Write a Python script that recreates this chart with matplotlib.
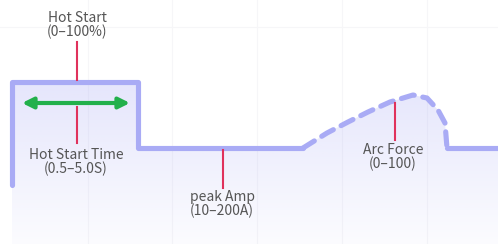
import numpy as np
from matplotlib import pyplot as plt
from matplotlib.patches import Polygon

plt.rcParams['font.family'] = ['Noto Sans CJK SC', 'DejaVu Sans']

### Profile of the welding current (pixel-like units, y grows downward)
solid_x = [12, 12, 138, 138, 303]
solid_y = [185, 82, 82, 148, 148]
arc_x = [303, 327, 348, 368, 390, 413, 427, 438, 445, 447]
arc_y = [148, 133, 122, 112, 102, 95, 98, 110, 123, 148]
tail_x = [447, 498]
tail_y = [148, 148]

### Callout labels and their red tick lines
labels = ['Hot Start\n(0–100%)', 'Hot Start Time\n(0.5–5.0S)', 'peak Amp\n(10–200A)', 'Arc Force\n(0–100)']
label_x = [77, 76, 222, 393]
label_y = [25, 162, 204, 157]
tick_x = [77, 77, 223, 395]
tick_top = [42, 107, 150, 103]
tick_bot = [80, 143, 188, 140]

arrow_x = [22, 130]
arrow_y = 103

grid_x = [88, 172, 257, 342, 427]
grid_y = [27]

line_c = '#a9abf5'
red_c = '#e0325c'
green_c = '#22b04b'
text_c = '#555555'

fig = plt.figure(figsize=(4.98, 2.44), dpi=100)
ax = fig.add_axes([0, 0, 1, 1])
ax.set_xlim(0, 498)
ax.set_ylim(244, 0)
ax.axis('off')

for gx in grid_x:
    ax.axvline(gx, color='#f6f6f8', lw=0.8, zorder=0)
for gy in grid_y:
    ax.axhline(gy, color='#f6f6f8', lw=0.8, zorder=0)

### Gradient fill under the profile
outline_x = solid_x[1:] + arc_x[1:] + tail_x[1:]
outline_y = solid_y[1:] + arc_y[1:] + tail_y[1:]
poly = Polygon(list(zip(outline_x, outline_y)) + [(498, 244), (12, 244)],
               closed=True, facecolor='none', edgecolor='none')
ax.add_patch(poly)
grad = np.linspace(0.30, 0.04, 200).reshape(-1, 1)
rgb = np.array([169, 171, 245]) / 255
img = np.ones((200, 1, 4))
img[..., :3] = rgb
img[..., 3] = grad
im = ax.imshow(img, extent=[0, 498, 244, 82], aspect='auto', zorder=1, interpolation='bilinear')
im.set_clip_path(poly)

lw = 3.7
ax.plot(solid_x, solid_y, color=line_c, lw=lw, solid_capstyle='round', solid_joinstyle='round', zorder=3)
ax.plot(arc_x, arc_y, color=line_c, lw=lw, ls=(0, (2.6, 1.7)), dash_capstyle='round', zorder=3)
ax.plot(tail_x, tail_y, color=line_c, lw=lw, solid_capstyle='round', zorder=3)

for x, t, b in zip(tick_x, tick_top, tick_bot):
    ax.plot([x, x], [t, b], color=red_c, lw=1.5, zorder=4)

ax.annotate('', xy=(arrow_x[1], arrow_y), xytext=(arrow_x[0], arrow_y),
            arrowprops=dict(arrowstyle='<|-|>', color=green_c, lw=3, mutation_scale=16,
                            shrinkA=0, shrinkB=0), zorder=5)

for s, x, y in zip(labels, label_x, label_y):
    ax.text(x, y, s, ha='center', va='center', fontsize=10, color=text_c,
            linespacing=0.95, zorder=6)

fig.savefig('out.png', dpi=100)
